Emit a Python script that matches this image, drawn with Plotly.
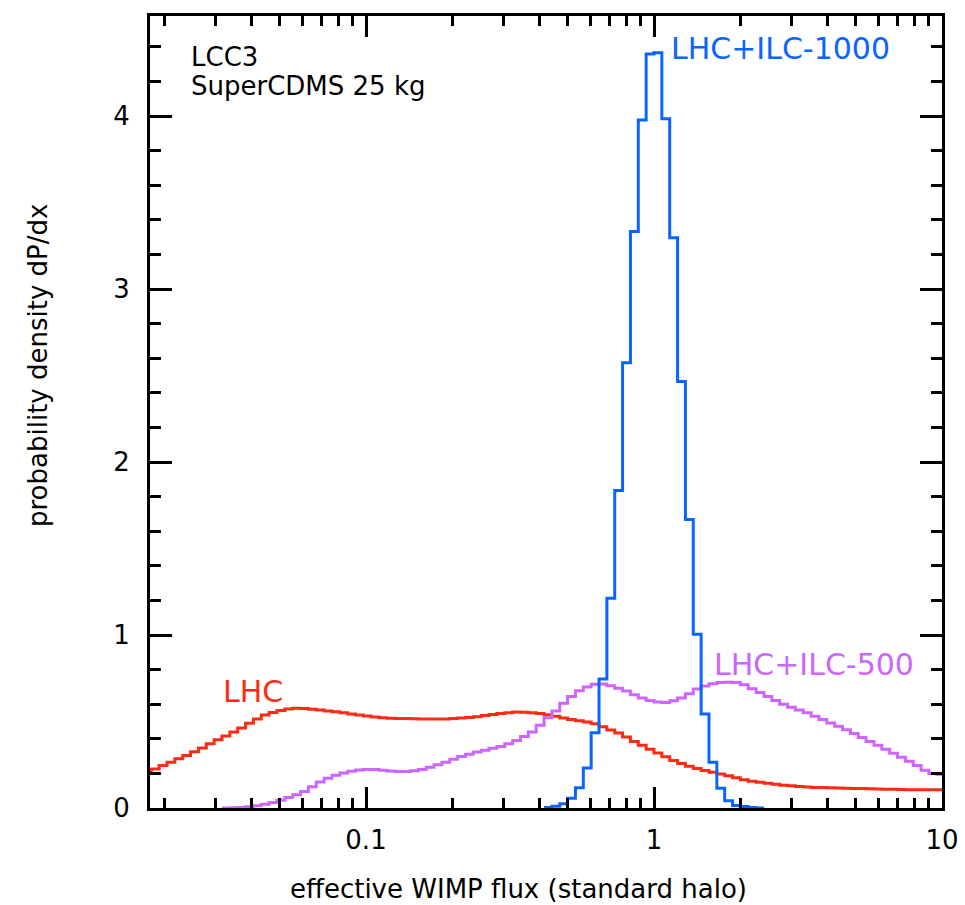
import plotly.graph_objects as go

# ---------------- data ----------------
# Histogram bins are uniform in log10(flux): bin k spans [k*w, (k+1)*w] decades
bin_width_dex = 3 / 110

# LHC (red), bins k = -65 .. 36
lhc_start = -65
lhc_values = [
    0.210, 0.225, 0.245, 0.265, 0.284, 0.304, 0.325, 0.347, 0.371, 0.394,
    0.416, 0.439, 0.462, 0.490, 0.515, 0.537, 0.552, 0.564, 0.572, 0.576,
    0.575, 0.571, 0.566, 0.561, 0.556, 0.550, 0.544, 0.538, 0.532, 0.526,
    0.522, 0.519, 0.518, 0.517, 0.516, 0.515, 0.514, 0.514, 0.515, 0.517,
    0.520, 0.523, 0.528, 0.534, 0.540, 0.546, 0.551, 0.555, 0.554, 0.551,
    0.546, 0.539, 0.530, 0.520, 0.511, 0.505, 0.497, 0.487, 0.470, 0.451,
    0.433, 0.410, 0.385, 0.362, 0.340, 0.318, 0.296, 0.275, 0.257, 0.242,
    0.229, 0.217, 0.206, 0.196, 0.186, 0.175, 0.164, 0.155, 0.149, 0.143,
    0.137, 0.132, 0.128, 0.125, 0.121, 0.119, 0.118, 0.117, 0.116, 0.114,
    0.113, 0.112, 0.111, 0.110, 0.109, 0.108, 0.107, 0.106, 0.106, 0.106,
    0.105, 0.105,
]

# LHC+ILC-500 (purple), bins k = -55 .. 36
ilc500_start = -55
ilc500_values = [
    0.000, 0.001, 0.003, 0.007, 0.013, 0.021, 0.032, 0.045, 0.060, 0.077,
    0.096, 0.123, 0.150, 0.172, 0.189, 0.203, 0.213, 0.220, 0.222, 0.222,
    0.218, 0.214, 0.211, 0.211, 0.215, 0.223, 0.236, 0.250, 0.265, 0.282,
    0.297, 0.310, 0.323, 0.334, 0.345, 0.356, 0.372, 0.390, 0.413, 0.440,
    0.478, 0.522, 0.560, 0.605, 0.645, 0.678, 0.700, 0.715, 0.717, 0.706,
    0.692, 0.676, 0.655, 0.636, 0.621, 0.612, 0.610, 0.620, 0.636, 0.660,
    0.688, 0.705, 0.718, 0.725, 0.727, 0.725, 0.712, 0.690, 0.668, 0.645,
    0.622, 0.600, 0.583, 0.567, 0.550, 0.530, 0.511, 0.492, 0.472, 0.452,
    0.430, 0.408, 0.385, 0.362, 0.339, 0.316, 0.293, 0.270, 0.245, 0.218,
    0.200, 0.195,
]

# LHC+ILC-1000 (blue), bins k = -14 .. 13
ilc1000_start = -14
ilc1000_values = [
    0.003, 0.010, 0.025, 0.056, 0.117, 0.231, 0.435, 0.746, 1.212,
    1.835, 2.574, 3.332, 3.977, 4.358, 4.365, 3.984, 3.296, 2.466, 1.668,
    1.004, 0.544, 0.264, 0.114, 0.042, 0.015, 0.008, 0.003, 0.000,
]

x_major_ticks = [0.1, 1, 10]
x_major_labels = ["0.1", "1", "10"]
x_minor_decades = [0.01, 0.1, 1]
x_minor_digits = [2, 3, 4, 5, 6, 7, 8, 9]
y_major_ticks = [0, 1, 2, 3, 4]

RED = "#ff2a14"
PURPLE = "#cc66ff"
BLUE = "#0a64ff"
FONT = "DejaVu Sans"


def step_xy(start, values):
    n = len(values)
    xs = [10 ** ((start + i) * bin_width_dex) for i in range(n + 1)]
    ys = list(values) + [values[-1]]
    return xs, ys


fig = go.Figure()
for start, vals, col in [
    (lhc_start, lhc_values, RED),
    (ilc500_start, ilc500_values, PURPLE),
    (ilc1000_start, ilc1000_values, BLUE),
]:
    xs, ys = step_xy(start, vals)
    fig.add_trace(go.Scatter(x=xs, y=ys, mode="lines", line_shape="hv",
                             line=dict(color=col, width=3), showlegend=False,
                             hoverinfo="skip"))

# layout geometry (pixels)
W, H = 965, 905
L, R, T, B = 150, 942, 16, 808
pw, ph = R - L, B - T
Y_PER_UNIT = 173.0


def px(xp):
    return (xp - L) / pw


def py(yp):
    return (B - yp) / ph


minor_x = [d * k for d in x_minor_decades for k in x_minor_digits]

fig.update_layout(
    width=W, height=H,
    margin=dict(l=L, r=W - R, t=T, b=H - B, pad=0),
    paper_bgcolor="white", plot_bgcolor="white",
    font=dict(family=FONT, size=24, color="black"),
    xaxis=dict(
        type="log", range=[-1.75, 1.0], automargin=False,
        tickmode="array", tickvals=x_major_ticks, ticktext=x_major_labels,
        ticks="inside", ticklen=21, tickwidth=3, tickcolor="black",
        showline=True, linewidth=3, linecolor="black", mirror="allticks",
        showgrid=False, zeroline=False,
        tickfont=dict(family=FONT, size=26),
        ticklabelstandoff=7,
        minor=dict(tickmode="array", tickvals=minor_x, ticks="inside",
                   ticklen=10, tickwidth=3, tickcolor="black", showgrid=False),
    ),
    yaxis=dict(
        range=[0, (B - T) / Y_PER_UNIT], automargin=False,
        tickmode="array", tickvals=y_major_ticks,
        ticks="inside", ticklen=22, tickwidth=3, tickcolor="black",
        showline=True, linewidth=3, linecolor="black", mirror="allticks",
        showgrid=False, zeroline=False,
        tickfont=dict(family=FONT, size=26),
        ticklabelstandoff=12,
        minor=dict(dtick=0.2, ticks="inside", ticklen=11, tickwidth=3,
                   tickcolor="black", showgrid=False),
    ),
)

ann = [
    dict(text="LCC3", x=px(189), y=py(57), color="black", size=26),
    dict(text="SuperCDMS 25 kg", x=px(189), y=py(86), color="black", size=26),
    dict(text="LHC+ILC-1000", x=px(669), y=py(49), color=BLUE, size=30),
    dict(text="LHC", x=px(221), y=py(691), color=RED, size=30),
    dict(text="LHC+ILC-500", x=px(712), y=py(664), color=PURPLE, size=30),
]
for a in ann:
    fig.add_annotation(text=a["text"], x=a["x"], y=a["y"], xref="paper", yref="paper",
                       xanchor="left", yanchor="middle", showarrow=False,
                       font=dict(family=FONT, size=a["size"], color=a["color"]))

fig.add_annotation(text="effective WIMP flux (standard halo)", x=px(518), y=py(889),
                   xref="paper", yref="paper", xanchor="center", yanchor="middle",
                   showarrow=False, font=dict(family=FONT, size=26, color="black"))
fig.add_annotation(text="probability density dP/dx", x=px(38), y=py(366),
                   xref="paper", yref="paper", xanchor="center", yanchor="middle",
                   textangle=-90, showarrow=False,
                   font=dict(family=FONT, size=26, color="black"))

fig.write_html("out.html")
